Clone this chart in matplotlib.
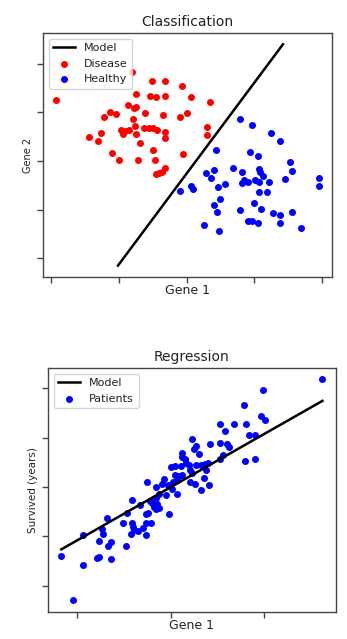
import matplotlib
matplotlib.use("Agg")
import matplotlib.pyplot as plt
import numpy as np

# ── Classification data ─────────────────────────────────────────
disease_x = [-1.92, -0.81, -0.51, -0.31, -0.06, -0.75, -0.54, -0.45, -0.32, 0.06,
             0.35, -0.86, -0.78, -0.75, -1.12, -1.04, -1.21, -0.61, -0.34, -0.10,
             0.00, -0.79, -0.96, -0.91, -0.84, -0.76, -0.63, -0.56, -0.49, -0.44,
             -0.32, -1.43, -1.26, -1.30, -0.75, -0.32, -0.68, 0.30, 0.30, -0.50,
             -1.10, -0.99, -0.71, -0.47, -0.05, -0.45, -0.40, -0.36, -0.31, -0.94]
disease_y = [1.25, 1.82, 1.65, 1.64, 1.54, 1.38, 1.34, 1.32, 1.33, 1.31,
             1.21, 1.15, 1.09, 1.10, 1.01, 0.97, 0.91, 0.99, 0.94, 0.90,
             0.98, 0.86, 0.64, 0.62, 0.64, 0.71, 0.68, 0.67, 0.68, 0.64,
             0.60, 0.50, 0.58, 0.41, 0.55, 0.48, 0.37, 0.69, 0.53, 0.23,
             0.16, 0.03, 0.01, 0.03, 0.14, -0.27, -0.25, -0.23, -0.15, 0.56]

healthy_x = [0.79, 0.97, 1.25, 1.38, 0.43, 0.94, 1.05, 1.52, 1.55, 0.69,
             0.41, 0.29, 0.36, 0.82, 1.07, 1.08, 1.12, 0.84, 0.90, 0.82,
             1.01, 1.07, 1.21, 1.45, 1.95, 1.95, 0.57, 0.46, -0.10, 0.06,
             0.09, 1.07, 1.19, 0.50, 0.40, 0.45, 0.79, 0.99, 1.09, 1.27,
             1.37, 1.55, 0.91, 0.96, 1.05, 1.38, 0.26, 0.48, 1.69]
healthy_y = [0.86, 0.73, 0.58, 0.42, 0.23, 0.18, 0.10, -0.03, -0.21, -0.14,
             -0.18, -0.25, -0.35, -0.22, -0.16, -0.23, -0.30, -0.40, -0.43, -0.45,
             -0.40, -0.43, -0.44, -0.38, -0.35, -0.51, -0.48, -0.53, -0.62, -0.51,
             -0.57, -0.64, -0.64, -0.78, -0.91, -1.05, -1.01, -0.87, -0.99, -1.07,
             -1.10, -1.05, -1.24, -1.23, -1.28, -1.28, -1.32, -1.43, -1.37]

# decision boundary
boundary_slope = 1.87
boundary_intercept = -0.26
boundary_range = [-1.01, 1.42]

# ── Regression data ─────────────────────────────────────────────
patients_x = [1.62, 0.98, 0.78, 0.96, 1.01, 0.52, 0.67, 0.80, 0.58, 0.83,
              0.90, 0.23, 0.42, 0.53, 0.60, 0.62, 0.27, 0.25, 0.30, 0.12,
              0.12, 0.15, 0.56, 0.53, 0.79, 0.90, 0.00, 0.04, 0.11, 0.19,
              0.16, 0.27, 0.20, 0.23, 0.32, 0.36, 0.40, 0.38, 0.04, 0.09,
              0.12, -0.07, -0.09, -0.25, -0.16, -0.03, 0.01, 0.02, 0.07, 0.20,
              0.26, 0.35, 0.41, 0.32, 0.07, -0.05, -0.13, -0.16, -0.22, -0.20,
              -0.13, -0.16, -0.42, -0.33, -0.27, -0.24, -0.21, -0.26, -0.30, -0.27,
              -0.35, -0.39, -0.41, -0.40, -0.43, -0.51, -0.47, -0.68, -0.73, -0.72,
              -0.94, -0.77, -0.64, -0.67, -0.48, -0.77, -0.79, -0.64, -0.94, -1.17,
              -1.04, -0.02, -0.18, -0.15]
patients_y = [2.19, 1.96, 1.67, 1.45, 1.37, 1.27, 1.27, 1.27, 1.13, 1.06,
              1.05, 0.97, 0.88, 0.90, 0.88, 0.82, 0.84, 0.78, 0.67, 0.69,
              0.61, 0.56, 0.66, 0.57, 0.52, 0.56, 0.41, 0.42, 0.42, 0.44,
              0.49, 0.44, 0.35, 0.29, 0.45, 0.46, 0.48, 0.35, 0.24, 0.22,
              0.24, 0.17, 0.07, 0.10, 0.01, 0.04, -0.04, 0.10, 0.14, 0.10,
              0.07, 0.18, 0.05, -0.05, -0.15, -0.17, -0.14, -0.22, -0.29, -0.33,
              -0.43, -0.45, -0.26, -0.36, -0.55, -0.53, -0.72, -0.73, -0.82, -0.98,
              -0.89, -0.87, -0.73, -0.80, -0.96, -0.72, -0.52, -0.63, -0.85, -0.95,
              -0.97, -1.10, -1.12, -1.20, -1.19, -1.42, -1.44, -1.46, -1.59, -1.39,
              -2.30, -0.55, -0.41, -0.35]

fit_slope = 1.08
fit_intercept = 0.0

class_xticks = [-2, -1, 0, 1, 2]
class_yticks = [-2, -1, 0, 1, 2]
reg_xticks = [-1, 0, 1]
reg_yticks = [-2, -1, 0, 1, 2]

# ── Styling ─────────────────────────────────────────────────────
SPINE_COLOR = "#444444"
TEXT_COLOR = "#222222"

plt.rcParams.update({
    "font.family": "DejaVu Sans",
    "text.color": TEXT_COLOR,
    "axes.labelcolor": TEXT_COLOR,
    "axes.edgecolor": SPINE_COLOR,
    "axes.linewidth": 1.0,
    "xtick.color": SPINE_COLOR,
    "ytick.color": SPINE_COLOR,
})

fig = plt.figure(figsize=(3.47, 6.39), dpi=100)
ax1 = fig.add_axes([0.124, 0.567, 0.833, 0.381])
ax2 = fig.add_axes([0.139, 0.043, 0.828, 0.381])


def style_axes(ax, title, xlabel, ylabel, xticks, yticks, ylabel_size):
    ax.set_title(title, fontsize=10, pad=5)
    ax.set_xlabel(xlabel, fontsize=9, labelpad=-2)
    ax.set_ylabel(ylabel, fontsize=ylabel_size, labelpad=0)
    ax.set_xticks(xticks)
    ax.set_yticks(yticks)
    ax.set_xticklabels([])
    ax.set_yticklabels([])
    ax.tick_params(length=4, width=1)


# Classification
bx = np.array(boundary_range)
ax1.plot(bx, boundary_slope * bx + boundary_intercept, color="black", lw=1.8, label="Model")
ax1.scatter(disease_x, disease_y, s=16, color="red", label="Disease")
ax1.scatter(healthy_x, healthy_y, s=16, color="blue", label="Healthy")
style_axes(ax1, "Classification", "Gene 1", "Gene 2", class_xticks, class_yticks, 7)
ax1.legend(loc="upper left", fontsize=8)

# Regression
rx = np.array([min(patients_x), max(patients_x)])
ax2.plot(rx, fit_slope * rx + fit_intercept, color="black", lw=1.8, label="Model")
ax2.scatter(patients_x, patients_y, s=16, color="blue", label="Patients")
style_axes(ax2, "Regression", "Gene 1", "Survived (years)", reg_xticks, reg_yticks, 7.5)
ax2.legend(loc="upper left", fontsize=8)

fig.savefig("out.png", dpi=100)
plt.close(fig)
